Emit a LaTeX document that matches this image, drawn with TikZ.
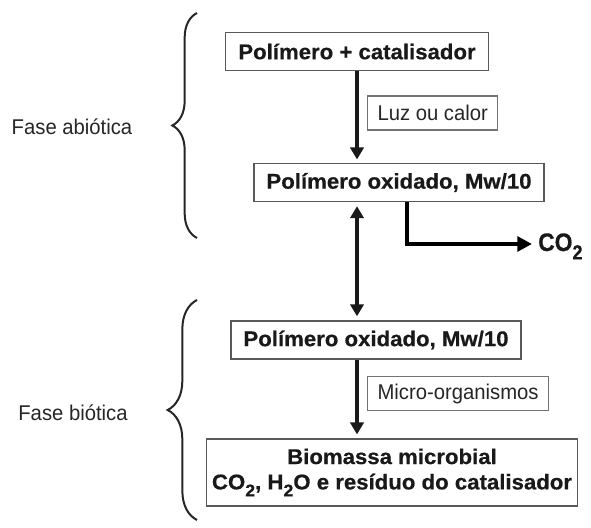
\documentclass[tikz,border=0pt]{standalone}
\usepackage{fontspec}
\usepackage{graphicx}
\setmainfont{Liberation Sans}[FakeStretch=0.95]
\newfontfamily\widefont{Liberation Sans}[FakeStretch=1.04, FakeBold=0.5]
\newfontfamily\narrowfont{Liberation Sans}[FakeStretch=0.9, FakeBold=0.5]
\usetikzlibrary{positioning,arrows.meta,decorations.pathreplacing}
\newcommand{\lowidx}[1]{\raisebox{-0.33em}{\scalebox{0.8}{#1}}}

\begin{document}
\begin{tikzpicture}[
    x=0.75pt, y=0.75pt,
    >={Triangle[length=9pt,width=10pt]},
    stage/.style={draw=black!65, line width=1.1pt, fill=white, inner xsep=9.5pt,
        minimum height=28.5pt, text=black!90,
        font=\widefont\bfseries\fontsize{16}{19}\selectfont},
    agent/.style={draw=black!55, line width=0.8pt, inner xsep=7.5pt,
        minimum height=25.5pt, text=black!85, font=\fontsize{16}{18}\selectfont},
    phase/.style={text=black!85, font=\fontsize{16}{18}\selectfont},
    flow/.style={->, line width=2.8pt, black!90},
    curly/.style={decorate, decoration={brace, amplitude=#1}, line width=1.5pt, black!85}
]
\useasboundingbox (0,0) rectangle (591,527);

% boxes
\node[stage] (poly) at (357,475.5) {Polímero + catalisador};
\node[stage] (oxa) at (399,344.5) {Polímero oxidado, Mw/10};
\node[stage] (oxb) at (376,187) {Polímero oxidado, Mw/10};
\node[stage, align=center, inner xsep=4pt, minimum height=50pt] (bio) at (392,54.5)
    {Biomassa microbial\\ CO\lowidx{2}, H\lowidx{2}O e resíduo do catalisador};

% phases
\node[phase] (abio) at (72,400) {Fase abiótica};
\node[phase] (biot) at (73,114) {Fase biótica};
\draw[curly=18.5pt] (197,289) -- (197,514);
\draw[curly=22pt] (197,7) -- (197,227);

% arrows
\draw[flow, shorten >=2.5pt] (poly.south) -- (poly.south |- oxa.north) coordinate[pos=0.5] (m1);
\node[agent, right=7.5pt of m1, yshift=3pt] (luz) {Luz ou calor};

\draw[flow, <->, shorten <=3pt, shorten >=3pt] (oxa.south -| poly.south) -- (oxb.north -| poly.south);

\draw[flow, shorten >=3pt] (oxb.south -| poly.south) -- (bio.north -| poly.south) coordinate[pos=0.5] (m2);
\node[agent, right=7.5pt of m2, yshift=4pt] (micro) {Micro-organismos};

% CO2 release
\node[anchor=base west, inner sep=0pt, text=black!90,
    font=\narrowfont\bfseries\fontsize{19}{21}\selectfont] (co2) at (538,276) {CO\lowidx{2}};
\coordinate (out) at (407,344.5);
\coordinate (tip) at (532,283);
\draw[->, line width=3.4pt, >={Triangle[length=11pt,width=11pt]}] (oxa.south -| out) |- (tip);

\end{tikzpicture}
\end{document}
